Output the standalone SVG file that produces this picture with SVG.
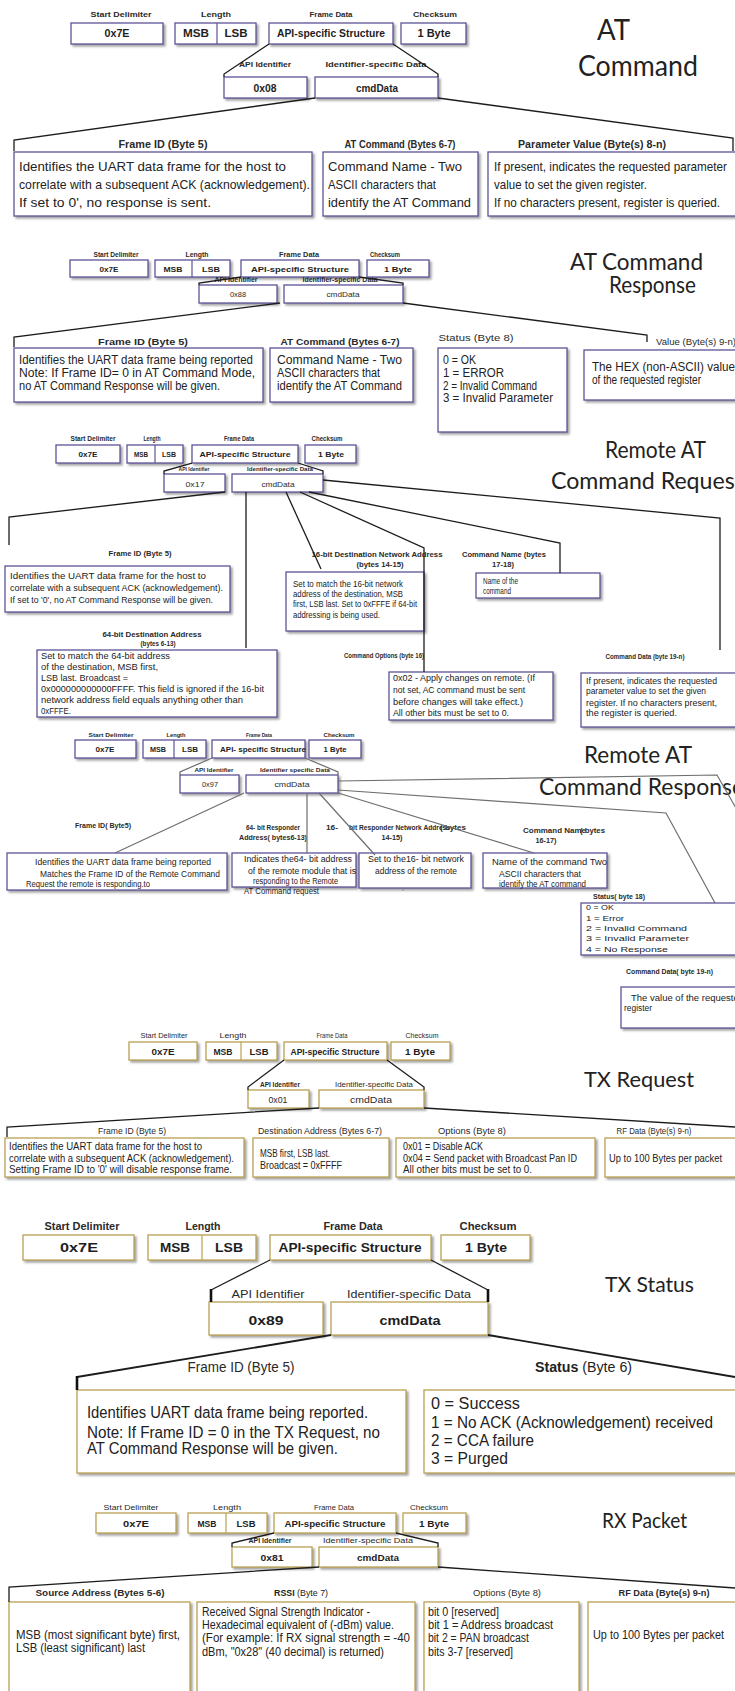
<svg xmlns="http://www.w3.org/2000/svg" width="735" height="1691" viewBox="0 0 735 1691">
<defs>
<filter id="sh" x="-5%" y="-10%" width="115%" height="140%">
<feDropShadow dx="2" dy="2" stdDeviation="1.2" flood-color="#707070" flood-opacity="0.65"/>
</filter>
<style>
.hl{font-family:"Liberation Sans",Arial,sans-serif;font-weight:bold;text-anchor:middle;fill:#2a2a2a}
.nl{font-family:"Liberation Sans",Arial,sans-serif;text-anchor:middle;fill:#2a2a2a}
.bl{font-family:"Liberation Sans",Arial,sans-serif;font-weight:bold;text-anchor:middle;fill:#1e1e1e}
.tx{font-family:"Liberation Sans",Arial,sans-serif;fill:#222}
.ti{font-family:Lato,"Open Sans",sans-serif;fill:#222}
.pb{fill:#fff;stroke:#5d5399;stroke-width:1.3;filter:url(#sh)}
.gb{fill:#fff;stroke:#bba150;stroke-width:1.3;filter:url(#sh)}
.pd{stroke:#5d5399;stroke-width:1.2}
.gd{stroke:#bba150;stroke-width:1.2}
.ln{fill:none;stroke:#1c1c1c;stroke-width:1.3}
.lg{fill:none;stroke:#6e6e6e;stroke-width:1.2}
.tk{fill:none;stroke:#111;stroke-width:2.6}
</style>
</defs>

<!-- ===================== AT Command ===================== -->
<g id="at-title">
<text class="ti" x="597" y="40" font-size="28" textLength="33" lengthAdjust="spacingAndGlyphs">AT</text>
<text class="ti" x="578" y="76" font-size="28" textLength="120" lengthAdjust="spacingAndGlyphs">Command</text>
</g>
<g id="at-start">
<text class="hl" x="121" y="17" font-size="8" textLength="61" lengthAdjust="spacingAndGlyphs">Start Delimiter</text>
<rect class="pb" x="71" y="23" width="92" height="21"/>
<text class="bl" x="117" y="37" font-size="10" textLength="25" lengthAdjust="spacingAndGlyphs">0x7E</text>
</g>
<g id="at-length">
<text class="hl" x="216" y="17" font-size="8" textLength="30" lengthAdjust="spacingAndGlyphs">Length</text>
<rect class="pb" x="175" y="23" width="81" height="21"/>
<line class="pd" x1="217" y1="23" x2="217" y2="44"/>
<text class="bl" x="196" y="37" font-size="10" textLength="26" lengthAdjust="spacingAndGlyphs">MSB</text>
<text class="bl" x="236" y="37" font-size="10" textLength="23" lengthAdjust="spacingAndGlyphs">LSB</text>
</g>
<g id="at-frame">
<text class="hl" x="331" y="17" font-size="8" textLength="43" lengthAdjust="spacingAndGlyphs">Frame Data</text>
<rect class="pb" x="269" y="23" width="124" height="21"/>
<text class="bl" x="331" y="37" font-size="10" textLength="108" lengthAdjust="spacingAndGlyphs">API-specific Structure</text>
</g>
<g id="at-checksum">
<text class="hl" x="435" y="17" font-size="8" textLength="44" lengthAdjust="spacingAndGlyphs">Checksum</text>
<rect class="pb" x="401" y="23" width="65" height="21"/>
<text class="bl" x="434" y="37" font-size="10" textLength="33" lengthAdjust="spacingAndGlyphs">1 Byte</text>
</g>
<g id="at-api">
<text class="hl" x="265" y="67" font-size="8" textLength="52" lengthAdjust="spacingAndGlyphs">API Identifier</text>
<rect class="pb" x="224" y="77" width="83" height="21"/>
<text class="bl" x="265" y="92" font-size="10" textLength="23" lengthAdjust="spacingAndGlyphs">0x08</text>
</g>
<g id="at-data">
<text class="hl" x="376" y="67" font-size="8" textLength="101" lengthAdjust="spacingAndGlyphs">Identifier-specific Data</text>
<rect class="pb" x="315" y="77" width="123" height="21"/>
<text class="bl" x="377" y="92" font-size="10" textLength="42" lengthAdjust="spacingAndGlyphs">cmdData</text>
</g>
<g id="at-frameid">
<text class="hl" x="163" y="148" font-size="10" textLength="89" lengthAdjust="spacingAndGlyphs">Frame ID (Byte 5)</text>
<rect class="pb" x="14" y="152" width="298" height="64"/>
<text class="tx" x="19" y="171" font-size="13" textLength="267" lengthAdjust="spacingAndGlyphs">Identifies the UART data frame for the host to</text>
<text class="tx" x="19" y="189" font-size="13" textLength="291" lengthAdjust="spacingAndGlyphs">correlate with a subsequent ACK (acknowledgement).</text>
<text class="tx" x="19" y="207" font-size="13" textLength="192" lengthAdjust="spacingAndGlyphs">If set to 0', no response is sent.</text>
</g>
<g id="at-command">
<text class="hl" x="400" y="148" font-size="10" textLength="111" lengthAdjust="spacingAndGlyphs">AT Command (Bytes 6-7)</text>
<rect class="pb" x="323" y="152" width="155" height="64"/>
<text class="tx" x="328" y="171" font-size="13" textLength="134" lengthAdjust="spacingAndGlyphs">Command Name - Two</text>
<text class="tx" x="328" y="189" font-size="13" textLength="108" lengthAdjust="spacingAndGlyphs">ASCII characters that</text>
<text class="tx" x="328" y="207" font-size="13" textLength="143" lengthAdjust="spacingAndGlyphs">identify the AT Command</text>
</g>
<g id="at-param">
<text class="hl" x="592" y="148" font-size="10" textLength="148" lengthAdjust="spacingAndGlyphs">Parameter Value  (Byte(s) 8-n)</text>
<rect class="pb" x="488" y="152" width="260" height="64"/>
<text class="tx" x="494" y="171" font-size="13" textLength="233" lengthAdjust="spacingAndGlyphs">If present, indicates the requested parameter</text>
<text class="tx" x="494" y="189" font-size="13" textLength="153" lengthAdjust="spacingAndGlyphs">value to set the given register.</text>
<text class="tx" x="494" y="207" font-size="13" textLength="226" lengthAdjust="spacingAndGlyphs">If no characters present, register is queried.</text>
</g>

<!-- ===================== AT Command Response ===================== -->
<g id="atr-title">
<text class="ti" x="570" y="270" font-size="24" textLength="133" lengthAdjust="spacingAndGlyphs">AT Command</text>
<text class="ti" x="609" y="293" font-size="24" textLength="87" lengthAdjust="spacingAndGlyphs">Response</text>
</g>
<g id="atr-start">
<text class="hl" x="116" y="257" font-size="7" textLength="45" lengthAdjust="spacingAndGlyphs">Start Delimiter</text>
<rect class="pb" x="70" y="260" width="78" height="17"/>
<text class="bl" x="109" y="272" font-size="8" textLength="19" lengthAdjust="spacingAndGlyphs">0x7E</text>
</g>
<g id="atr-length">
<text class="hl" x="197" y="257" font-size="7" textLength="23" lengthAdjust="spacingAndGlyphs">Length</text>
<rect class="pb" x="155" y="260" width="75" height="17"/>
<line class="pd" x1="192" y1="260" x2="192" y2="277"/>
<text class="bl" x="173" y="272" font-size="8" textLength="19" lengthAdjust="spacingAndGlyphs">MSB</text>
<text class="bl" x="211" y="272" font-size="8" textLength="18" lengthAdjust="spacingAndGlyphs">LSB</text>
</g>
<g id="atr-frame">
<text class="hl" x="299" y="257" font-size="7" textLength="40" lengthAdjust="spacingAndGlyphs">Frame Data</text>
<rect class="pb" x="241" y="260" width="118" height="17"/>
<text class="bl" x="300" y="272" font-size="8" textLength="98" lengthAdjust="spacingAndGlyphs">API-specific Structure</text>
</g>
<g id="atr-checksum">
<text class="hl" x="385" y="257" font-size="7" textLength="30" lengthAdjust="spacingAndGlyphs">Checksum</text>
<rect class="pb" x="367" y="260" width="62" height="17"/>
<text class="bl" x="398" y="272" font-size="8" textLength="28" lengthAdjust="spacingAndGlyphs">1 Byte</text>
</g>
<g id="atr-api">
<text class="hl" x="236" y="282" font-size="6.5" textLength="43" lengthAdjust="spacingAndGlyphs">API Identifier</text>
<rect class="pb" x="199" y="285" width="78" height="18"/>
<text class="nl" x="238" y="297" font-size="8" textLength="16" lengthAdjust="spacingAndGlyphs">0x88</text>
</g>
<g id="atr-data">
<text class="hl" x="340" y="282" font-size="6.5" textLength="75" lengthAdjust="spacingAndGlyphs">Identifier-specific Data</text>
<rect class="pb" x="284" y="285" width="119" height="18"/>
<text class="nl" x="343" y="297" font-size="8" textLength="33" lengthAdjust="spacingAndGlyphs">cmdData</text>
</g>
<g id="atr-frameid">
<text class="hl" x="143" y="345" font-size="9" textLength="90" lengthAdjust="spacingAndGlyphs">Frame ID  (Byte 5)</text>
<rect class="pb" x="14" y="348" width="249" height="54"/>
<text class="tx" x="19" y="364" font-size="12" textLength="234" lengthAdjust="spacingAndGlyphs">Identifies the UART data frame being reported</text>
<text class="tx" x="19" y="377" font-size="12" textLength="236" lengthAdjust="spacingAndGlyphs">Note: If Frame ID= 0 in AT Command Mode,</text>
<text class="tx" x="19" y="390" font-size="12" textLength="201" lengthAdjust="spacingAndGlyphs">no AT Command Response will be given.</text>
</g>
<g id="atr-command">
<text class="hl" x="340" y="345" font-size="9" textLength="119" lengthAdjust="spacingAndGlyphs">AT Command (Bytes 6-7)</text>
<rect class="pb" x="270" y="348" width="143" height="54"/>
<text class="tx" x="277" y="364" font-size="12" textLength="125" lengthAdjust="spacingAndGlyphs">Command Name - Two</text>
<text class="tx" x="277" y="377" font-size="12" textLength="103" lengthAdjust="spacingAndGlyphs">ASCII characters that</text>
<text class="tx" x="277" y="390" font-size="12" textLength="125" lengthAdjust="spacingAndGlyphs">identify the AT Command</text>
</g>
<g id="atr-status">
<text class="nl" x="476" y="341" font-size="9" textLength="75" lengthAdjust="spacingAndGlyphs">Status (Byte 8)</text>
<rect class="pb" x="438" y="348" width="129" height="84"/>
<text class="tx" x="443" y="364" font-size="12" textLength="33" lengthAdjust="spacingAndGlyphs">0 = OK</text>
<text class="tx" x="443" y="377" font-size="12" textLength="61" lengthAdjust="spacingAndGlyphs">1 = ERROR</text>
<text class="tx" x="443" y="390" font-size="12" textLength="94" lengthAdjust="spacingAndGlyphs">2 = Invalid Command</text>
<text class="tx" x="443" y="402" font-size="12" textLength="110" lengthAdjust="spacingAndGlyphs">3 = Invalid Parameter</text>
</g>
<g id="atr-value">
<text class="nl" x="696" y="345" font-size="9" textLength="80" lengthAdjust="spacingAndGlyphs">Value  (Byte(s) 9-n)</text>
<rect class="pb" x="584" y="350" width="160" height="50"/>
<text class="tx" x="592" y="371" font-size="12" textLength="143" lengthAdjust="spacingAndGlyphs">The HEX (non-ASCII) value</text>
<text class="tx" x="592" y="384" font-size="12" textLength="109" lengthAdjust="spacingAndGlyphs">of the requested register</text>
</g>

<!-- ===================== Remote AT Command Request ===================== -->
<g id="rq-title">
<text class="ti" x="605" y="458" font-size="24" textLength="101" lengthAdjust="spacingAndGlyphs">Remote AT</text>
<text class="ti" x="551" y="489" font-size="24" textLength="192" lengthAdjust="spacingAndGlyphs">Command Request</text>
</g>
<g id="rq-start">
<text class="hl" x="93" y="441" font-size="6.5" textLength="45" lengthAdjust="spacingAndGlyphs">Start Delimiter</text>
<rect class="pb" x="56" y="445" width="64" height="18"/>
<text class="bl" x="88" y="457" font-size="7.5" textLength="19" lengthAdjust="spacingAndGlyphs">0x7E</text>
</g>
<g id="rq-length">
<text class="hl" x="152" y="441" font-size="6.5" textLength="17" lengthAdjust="spacingAndGlyphs">Length</text>
<rect class="pb" x="127" y="445" width="56" height="18"/>
<line class="pd" x1="155" y1="445" x2="155" y2="463"/>
<text class="bl" x="141" y="457" font-size="7.5" textLength="14" lengthAdjust="spacingAndGlyphs">MSB</text>
<text class="bl" x="169" y="457" font-size="7.5" textLength="14" lengthAdjust="spacingAndGlyphs">LSB</text>
</g>
<g id="rq-frame">
<text class="hl" x="239" y="441" font-size="6.5" textLength="30" lengthAdjust="spacingAndGlyphs">Frame Data</text>
<rect class="pb" x="192" y="445" width="106" height="18"/>
<text class="bl" x="245" y="457" font-size="7.5" textLength="91" lengthAdjust="spacingAndGlyphs">API-specific Structure</text>
</g>
<g id="rq-checksum">
<text class="hl" x="327" y="441" font-size="6.5" textLength="31" lengthAdjust="spacingAndGlyphs">Checksum</text>
<rect class="pb" x="305" y="445" width="51" height="18"/>
<text class="bl" x="331" y="457" font-size="7.5" textLength="26" lengthAdjust="spacingAndGlyphs">1 Byte</text>
</g>
<g id="rq-api">
<text class="hl" x="194" y="471" font-size="6" textLength="31" lengthAdjust="spacingAndGlyphs">API Identifier</text>
<rect class="pb" x="164" y="474" width="61" height="18"/>
<text class="nl" x="195" y="487" font-size="7.5" textLength="19" lengthAdjust="spacingAndGlyphs">0x17</text>
</g>
<g id="rq-data">
<text class="hl" x="280" y="471" font-size="6" textLength="66" lengthAdjust="spacingAndGlyphs">Identifier-specific Data</text>
<rect class="pb" x="232" y="474" width="91" height="18"/>
<text class="nl" x="278" y="487" font-size="7.5" textLength="33" lengthAdjust="spacingAndGlyphs">cmdData</text>
</g>
<g id="rq-frameid">
<text class="hl" x="140" y="556" font-size="7" textLength="63" lengthAdjust="spacingAndGlyphs">Frame ID (Byte 5)</text>
<rect class="pb" x="5" y="566" width="225" height="46"/>
<text class="tx" x="10" y="579" font-size="9.5" textLength="196" lengthAdjust="spacingAndGlyphs">Identifies the UART data frame for the host to</text>
<text class="tx" x="10" y="591" font-size="9.5" textLength="213" lengthAdjust="spacingAndGlyphs">correlate with a subsequent ACK (acknowledgement).</text>
<text class="tx" x="10" y="603" font-size="9.5" textLength="203" lengthAdjust="spacingAndGlyphs">If set to '0', no AT Command Response will be given.</text>
</g>
<g id="rq-net16">
<text class="hl" x="377" y="557" font-size="7" textLength="131" lengthAdjust="spacingAndGlyphs">16-bit Destination Network Address</text>
<text class="hl" x="380" y="567" font-size="7" textLength="47" lengthAdjust="spacingAndGlyphs">(bytes 14-15)</text>
<rect class="pb" x="286" y="572" width="138" height="59"/>
<text class="tx" x="293" y="587" font-size="9.5" textLength="110" lengthAdjust="spacingAndGlyphs">Set to match the 16-bit network</text>
<text class="tx" x="293" y="597" font-size="9.5" textLength="110" lengthAdjust="spacingAndGlyphs">address of the destination, MSB</text>
<text class="tx" x="293" y="607" font-size="9.5" textLength="124" lengthAdjust="spacingAndGlyphs">first, LSB last. Set to 0xFFFE if 64-bit</text>
<text class="tx" x="293" y="618" font-size="9.5" textLength="87" lengthAdjust="spacingAndGlyphs">addressing is being used.</text>
</g>
<g id="rq-name">
<text class="hl" x="504" y="557" font-size="7" textLength="84" lengthAdjust="spacingAndGlyphs">Command Name (bytes</text>
<text class="hl" x="503" y="567" font-size="7" textLength="22" lengthAdjust="spacingAndGlyphs">17-18)</text>
<rect class="pb" x="476" y="573" width="124" height="25"/>
<text class="tx" x="483" y="584" font-size="9.5" textLength="35" lengthAdjust="spacingAndGlyphs">Name of the</text>
<text class="tx" x="483" y="594" font-size="9.5" textLength="28" lengthAdjust="spacingAndGlyphs">command</text>
</g>
<g id="rq-addr64">
<text class="hl" x="152" y="637" font-size="7" textLength="99" lengthAdjust="spacingAndGlyphs">64-bit Destination Address</text>
<text class="hl" x="158" y="646" font-size="7" textLength="35" lengthAdjust="spacingAndGlyphs">(bytes 6-13)</text>
<rect class="pb" x="37" y="650" width="240" height="67"/>
<text class="tx" x="41" y="659" font-size="9.5" textLength="129" lengthAdjust="spacingAndGlyphs">Set to match the 64-bit address</text>
<text class="tx" x="41" y="670" font-size="9.5" textLength="117" lengthAdjust="spacingAndGlyphs">of the destination, MSB first,</text>
<text class="tx" x="41" y="681" font-size="9.5" textLength="87" lengthAdjust="spacingAndGlyphs">LSB last. Broadcast =</text>
<text class="tx" x="41" y="692" font-size="9.5" textLength="223" lengthAdjust="spacingAndGlyphs">0x000000000000FFFF. This field is ignored if the 16-bit</text>
<text class="tx" x="41" y="703" font-size="9.5" textLength="202" lengthAdjust="spacingAndGlyphs">network address field equals anything other than</text>
<text class="tx" x="41" y="714" font-size="9.5" textLength="30" lengthAdjust="spacingAndGlyphs">0xFFFE.</text>
</g>
<g id="rq-options">
<text class="hl" x="384" y="658" font-size="7" textLength="80" lengthAdjust="spacingAndGlyphs">Command Options (byte 16)</text>
<rect class="pb" x="389" y="672" width="164" height="48"/>
<text class="tx" x="393" y="681" font-size="9.5" textLength="142" lengthAdjust="spacingAndGlyphs">0x02 - Apply changes on remote. (If</text>
<text class="tx" x="393" y="693" font-size="9.5" textLength="132" lengthAdjust="spacingAndGlyphs">not set, AC command must be sent</text>
<text class="tx" x="393" y="705" font-size="9.5" textLength="130" lengthAdjust="spacingAndGlyphs">before changes will take effect.)</text>
<text class="tx" x="393" y="716" font-size="9.5" textLength="116" lengthAdjust="spacingAndGlyphs">All other bits must be set to 0.</text>
</g>
<g id="rq-cmddata">
<text class="hl" x="645" y="659" font-size="7" textLength="79" lengthAdjust="spacingAndGlyphs">Command Data (byte 19-n)</text>
<rect class="pb" x="581" y="673" width="170" height="54"/>
<text class="tx" x="586" y="684" font-size="9.5" textLength="131" lengthAdjust="spacingAndGlyphs">If present, indicates the requested</text>
<text class="tx" x="586" y="694" font-size="9.5" textLength="120" lengthAdjust="spacingAndGlyphs">parameter value to set the given</text>
<text class="tx" x="586" y="706" font-size="9.5" textLength="131" lengthAdjust="spacingAndGlyphs">register. If no characters present,</text>
<text class="tx" x="586" y="716" font-size="9.5" textLength="91" lengthAdjust="spacingAndGlyphs">the register is queried.</text>
</g>

<!-- ===================== Remote AT Command Response ===================== -->
<g id="rs-title">
<text class="ti" x="584" y="763" font-size="24" textLength="108" lengthAdjust="spacingAndGlyphs">Remote AT</text>
<text class="ti" x="539" y="795" font-size="24" textLength="205" lengthAdjust="spacingAndGlyphs">Command Response</text>
</g>
<g id="rs-start">
<text class="hl" x="111" y="737" font-size="6" textLength="45" lengthAdjust="spacingAndGlyphs">Start Delimiter</text>
<rect class="pb" x="75" y="740" width="61" height="18"/>
<text class="bl" x="105" y="752" font-size="7.5" textLength="19" lengthAdjust="spacingAndGlyphs">0x7E</text>
</g>
<g id="rs-length">
<text class="hl" x="176" y="737" font-size="6" textLength="19" lengthAdjust="spacingAndGlyphs">Length</text>
<rect class="pb" x="143" y="740" width="63" height="18"/>
<line class="pd" x1="174" y1="740" x2="174" y2="758"/>
<text class="bl" x="158" y="752" font-size="7.5" textLength="16" lengthAdjust="spacingAndGlyphs">MSB</text>
<text class="bl" x="190" y="752" font-size="7.5" textLength="16" lengthAdjust="spacingAndGlyphs">LSB</text>
</g>
<g id="rs-frame">
<text class="hl" x="259" y="737" font-size="6" textLength="26" lengthAdjust="spacingAndGlyphs">Frame Data</text>
<rect class="pb" x="212" y="740" width="93" height="18"/>
<text class="bl" x="220" y="752" font-size="7.5" textLength="86" lengthAdjust="spacingAndGlyphs" style="text-anchor:start">API- specific Structure</text>
</g>
<g id="rs-checksum">
<text class="hl" x="339" y="737" font-size="6" textLength="31" lengthAdjust="spacingAndGlyphs">Checksum</text>
<rect class="pb" x="309" y="740" width="52" height="18"/>
<text class="bl" x="335" y="752" font-size="7.5" textLength="23" lengthAdjust="spacingAndGlyphs">1 Byte</text>
</g>
<g id="rs-api">
<text class="hl" x="214" y="772" font-size="6" textLength="39" lengthAdjust="spacingAndGlyphs">API Identifier</text>
<rect class="pb" x="180" y="775" width="59" height="18"/>
<text class="nl" x="210" y="787" font-size="7.5" textLength="16" lengthAdjust="spacingAndGlyphs">0x97</text>
</g>
<g id="rs-data">
<text class="hl" x="295" y="772" font-size="6" textLength="70" lengthAdjust="spacingAndGlyphs">Identifier specific Data</text>
<rect class="pb" x="246" y="775" width="92" height="18"/>
<text class="nl" x="292" y="787" font-size="7.5" textLength="35" lengthAdjust="spacingAndGlyphs">cmdData</text>
</g>
<g id="rs-frameid">
<text class="hl" x="103" y="828" font-size="6.5" textLength="56" lengthAdjust="spacingAndGlyphs">Frame ID( Byte5)</text>
<rect class="pb" x="7" y="853" width="220" height="37"/>
<text class="tx" x="35" y="865" font-size="8.5" textLength="176" lengthAdjust="spacingAndGlyphs">Identifies the UART data frame being reported</text>
<text class="tx" x="40" y="877" font-size="8.5" textLength="180" lengthAdjust="spacingAndGlyphs">Matches the Frame ID of the Remote Command</text>
<text class="tx" x="26" y="887" font-size="8.5" textLength="124" lengthAdjust="spacingAndGlyphs">Request the remote is responding.to</text>
</g>
<g id="rs-addr64">
<text class="hl" x="273" y="830" font-size="6.5" textLength="54" lengthAdjust="spacingAndGlyphs">64- bit Responder</text>
<text class="hl" x="273" y="840" font-size="6.5" textLength="68" lengthAdjust="spacingAndGlyphs">Address( bytes6-13)</text>
<rect class="pb" x="232" y="853" width="124" height="34"/>
<text class="tx" x="244" y="862" font-size="8.5" textLength="108" lengthAdjust="spacingAndGlyphs">Indicates the64- bit address</text>
<text class="tx" x="248" y="874" font-size="8.5" textLength="108" lengthAdjust="spacingAndGlyphs">of the remote module that is</text>
<text class="tx" x="253" y="884" font-size="8.5" textLength="85" lengthAdjust="spacingAndGlyphs">responding to the Remote</text>
<text class="tx" x="244" y="894" font-size="8.5" textLength="75" lengthAdjust="spacingAndGlyphs">AT Command request</text>
</g>
<g id="rs-net16">
<text class="hl" x="326" y="830" font-size="6.5" textLength="12" lengthAdjust="spacingAndGlyphs" style="text-anchor:start">16-</text>
<text class="hl" x="349" y="830" font-size="6.5" textLength="101" lengthAdjust="spacingAndGlyphs" style="text-anchor:start">bit Responder Network Address</text>
<text class="hl" x="440" y="830" font-size="6.5" textLength="26" lengthAdjust="spacingAndGlyphs" style="text-anchor:start">( bytes</text>
<text class="hl" x="392" y="840" font-size="6.5" textLength="21" lengthAdjust="spacingAndGlyphs">14-15)</text>
<rect class="pb" x="359" y="853" width="112" height="35"/>
<text class="tx" x="368" y="862" font-size="8.5" textLength="96" lengthAdjust="spacingAndGlyphs">Set to the16- bit network</text>
<text class="tx" x="375" y="874" font-size="8.5" textLength="82" lengthAdjust="spacingAndGlyphs">address of the remote</text>
<circle cx="403" cy="890" r="0.6" fill="#555"/>
</g>
<g id="rs-name">
<text class="hl" x="523" y="833" font-size="6.5" textLength="63" lengthAdjust="spacingAndGlyphs" style="text-anchor:start">Command Name</text>
<text class="hl" x="580" y="833" font-size="6.5" textLength="25" lengthAdjust="spacingAndGlyphs" style="text-anchor:start">( bytes</text>
<text class="hl" x="546" y="843" font-size="6.5" textLength="21" lengthAdjust="spacingAndGlyphs">16-17)</text>
<rect class="pb" x="483" y="853" width="124" height="35"/>
<text class="tx" x="492" y="865" font-size="8.5" textLength="115" lengthAdjust="spacingAndGlyphs">Name of the command  Two</text>
<text class="tx" x="499" y="877" font-size="8.5" textLength="82" lengthAdjust="spacingAndGlyphs">ASCII characters that</text>
<text class="tx" x="499" y="887" font-size="8.5" textLength="87" lengthAdjust="spacingAndGlyphs">identify the AT command</text>
</g>
<g id="rs-status">
<text class="hl" x="593" y="899" font-size="6.5" textLength="52" lengthAdjust="spacingAndGlyphs" style="text-anchor:start">Status( byte 18)</text>
<rect class="pb" x="581" y="903" width="160" height="52"/>
<text class="tx" x="586" y="910" font-size="8" textLength="28" lengthAdjust="spacingAndGlyphs">0 = OK</text>
<text class="tx" x="586" y="921" font-size="8" textLength="38" lengthAdjust="spacingAndGlyphs">1 = Error</text>
<text class="tx" x="586" y="931" font-size="8" textLength="101" lengthAdjust="spacingAndGlyphs">2 =  Invalid Command</text>
<text class="tx" x="586" y="941" font-size="8" textLength="103" lengthAdjust="spacingAndGlyphs">3 =  Invalid Parameter</text>
<text class="tx" x="586" y="952" font-size="8" textLength="82" lengthAdjust="spacingAndGlyphs">4 =  No Response</text>
</g>
<g id="rs-cmddata">
<text class="hl" x="626" y="974" font-size="6.5" textLength="87" lengthAdjust="spacingAndGlyphs" style="text-anchor:start">Command Data( byte 19-n)</text>
<rect class="pb" x="621" y="987" width="130" height="41"/>
<text class="tx" x="631" y="1001" font-size="8.5" textLength="113" lengthAdjust="spacingAndGlyphs">The value of the requested</text>
<text class="tx" x="624" y="1011" font-size="8.5" textLength="28" lengthAdjust="spacingAndGlyphs">register</text>
</g>

<!-- ===================== TX Request ===================== -->
<g id="txq-title">
<text class="ti" x="584" y="1087" font-size="22" textLength="110" lengthAdjust="spacingAndGlyphs">TX Request</text>
</g>
<g id="txq-start">
<text class="nl" x="164" y="1038" font-size="7.5" textLength="47" lengthAdjust="spacingAndGlyphs">Start Delimiter</text>
<rect class="gb" x="129" y="1042" width="68" height="18"/>
<text class="bl" x="163" y="1055" font-size="8.5" textLength="23" lengthAdjust="spacingAndGlyphs">0x7E</text>
</g>
<g id="txq-length">
<text class="nl" x="233" y="1038" font-size="7.5" textLength="27" lengthAdjust="spacingAndGlyphs">Length</text>
<rect class="gb" x="206" y="1042" width="71" height="18"/>
<line class="gd" x1="241" y1="1042" x2="241" y2="1060"/>
<text class="bl" x="223" y="1055" font-size="8.5" textLength="19" lengthAdjust="spacingAndGlyphs">MSB</text>
<text class="bl" x="259" y="1055" font-size="8.5" textLength="19" lengthAdjust="spacingAndGlyphs">LSB</text>
</g>
<g id="txq-frame">
<text class="nl" x="332" y="1038" font-size="7.5" textLength="31" lengthAdjust="spacingAndGlyphs">Frame Data</text>
<rect class="gb" x="284" y="1042" width="103" height="18"/>
<text class="bl" x="335" y="1055" font-size="8.5" textLength="89" lengthAdjust="spacingAndGlyphs">API-specific Structure</text>
</g>
<g id="txq-checksum">
<text class="nl" x="422" y="1038" font-size="7.5" textLength="33" lengthAdjust="spacingAndGlyphs">Checksum</text>
<rect class="gb" x="391" y="1042" width="59" height="18"/>
<text class="bl" x="420" y="1055" font-size="8.5" textLength="30" lengthAdjust="spacingAndGlyphs">1 Byte</text>
</g>
<g id="txq-api">
<text class="hl" x="280" y="1087" font-size="7" textLength="40" lengthAdjust="spacingAndGlyphs">API Identifier</text>
<rect class="gb" x="248" y="1090" width="61" height="18"/>
<text class="nl" x="278" y="1103" font-size="8.5" textLength="19" lengthAdjust="spacingAndGlyphs">0x01</text>
</g>
<g id="txq-data">
<text class="nl" x="374" y="1087" font-size="7" textLength="78" lengthAdjust="spacingAndGlyphs">Identifier-specific Data</text>
<rect class="gb" x="319" y="1090" width="105" height="18"/>
<text class="nl" x="371" y="1103" font-size="8.5" textLength="42" lengthAdjust="spacingAndGlyphs">cmdData</text>
</g>
<g id="txq-frameid">
<text class="nl" x="132" y="1134" font-size="8.5" textLength="68" lengthAdjust="spacingAndGlyphs">Frame ID (Byte 5)</text>
<rect class="gb" x="5" y="1138" width="239" height="39"/>
<text class="tx" x="9" y="1150" font-size="10.5" textLength="193" lengthAdjust="spacingAndGlyphs">Identifies the UART data frame for the host to</text>
<text class="tx" x="9" y="1162" font-size="10.5" textLength="225" lengthAdjust="spacingAndGlyphs">correlate with a subsequent ACK (acknowledgement).</text>
<text class="tx" x="9" y="1173" font-size="10.5" textLength="223" lengthAdjust="spacingAndGlyphs">Setting Frame ID to '0' will disable response frame.</text>
</g>
<g id="txq-dest">
<text class="nl" x="320" y="1134" font-size="8.5" textLength="124" lengthAdjust="spacingAndGlyphs">Destination Address (Bytes 6-7)</text>
<rect class="gb" x="253" y="1138" width="136" height="39"/>
<text class="tx" x="260" y="1157" font-size="10.5" textLength="70" lengthAdjust="spacingAndGlyphs">MSB first, LSB last.</text>
<text class="tx" x="260" y="1169" font-size="10.5" textLength="82" lengthAdjust="spacingAndGlyphs">Broadcast = 0xFFFF</text>
</g>
<g id="txq-options">
<text class="nl" x="472" y="1134" font-size="8.5" textLength="68" lengthAdjust="spacingAndGlyphs">Options (Byte 8)</text>
<rect class="gb" x="396" y="1138" width="199" height="39"/>
<text class="tx" x="403" y="1150" font-size="10.5" textLength="80" lengthAdjust="spacingAndGlyphs">0x01 = Disable ACK</text>
<text class="tx" x="403" y="1162" font-size="10.5" textLength="174" lengthAdjust="spacingAndGlyphs">0x04 = Send packet with Broadcast Pan ID</text>
<text class="tx" x="403" y="1173" font-size="10.5" textLength="129" lengthAdjust="spacingAndGlyphs">All other bits must be set to 0.</text>
</g>
<g id="txq-rfdata">
<text class="nl" x="654" y="1134" font-size="8.5" textLength="75" lengthAdjust="spacingAndGlyphs">RF Data (Byte(s) 9-n)</text>
<rect class="gb" x="605" y="1138" width="140" height="39"/>
<text class="tx" x="609" y="1162" font-size="10.5" textLength="113" lengthAdjust="spacingAndGlyphs">Up to 100 Bytes per packet</text>
</g>

<!-- ===================== TX Status ===================== -->
<g id="txs-title">
<text class="ti" x="605" y="1292" font-size="22" textLength="89" lengthAdjust="spacingAndGlyphs">TX Status</text>
</g>
<g id="txs-start">
<text class="hl" x="82" y="1230" font-size="10.5" textLength="75" lengthAdjust="spacingAndGlyphs">Start Delimiter</text>
<rect class="gb" x="23" y="1235" width="111" height="25"/>
<text class="bl" x="79" y="1252" font-size="12.5" textLength="38" lengthAdjust="spacingAndGlyphs">0x7E</text>
</g>
<g id="txs-length">
<text class="hl" x="203" y="1230" font-size="10.5" textLength="35" lengthAdjust="spacingAndGlyphs">Length</text>
<rect class="gb" x="148" y="1235" width="108" height="25"/>
<line class="gd" x1="202" y1="1235" x2="202" y2="1260"/>
<text class="bl" x="175" y="1252" font-size="12.5" textLength="30" lengthAdjust="spacingAndGlyphs">MSB</text>
<text class="bl" x="229" y="1252" font-size="12.5" textLength="28" lengthAdjust="spacingAndGlyphs">LSB</text>
</g>
<g id="txs-frame">
<text class="hl" x="353" y="1230" font-size="10.5" textLength="59" lengthAdjust="spacingAndGlyphs">Frame Data</text>
<rect class="gb" x="270" y="1235" width="161" height="25"/>
<text class="bl" x="350" y="1252" font-size="12.5" textLength="143" lengthAdjust="spacingAndGlyphs">API-specific Structure</text>
</g>
<g id="txs-checksum">
<text class="hl" x="488" y="1230" font-size="10.5" textLength="57" lengthAdjust="spacingAndGlyphs">Checksum</text>
<rect class="gb" x="441" y="1235" width="89" height="25"/>
<text class="bl" x="486" y="1252" font-size="12.5" textLength="42" lengthAdjust="spacingAndGlyphs">1 Byte</text>
</g>
<g id="txs-api">
<text class="nl" x="268" y="1298" font-size="10.5" textLength="73" lengthAdjust="spacingAndGlyphs">API Identifier</text>
<rect class="gb" x="209" y="1302" width="114" height="33"/>
<text class="bl" x="266" y="1325" font-size="12.5" textLength="35" lengthAdjust="spacingAndGlyphs">0x89</text>
</g>
<g id="txs-data">
<text class="nl" x="409" y="1298" font-size="10.5" textLength="124" lengthAdjust="spacingAndGlyphs">Identifier-specific Data</text>
<rect class="gb" x="331" y="1302" width="157" height="33"/>
<text class="bl" x="410" y="1325" font-size="12.5" textLength="61" lengthAdjust="spacingAndGlyphs">cmdData</text>
</g>
<g id="txs-frameid">
<text class="nl" x="241" y="1372" font-size="14" textLength="107" lengthAdjust="spacingAndGlyphs">Frame ID (Byte 5)</text>
<rect class="gb" x="77" y="1390" width="329" height="83"/>
<text class="tx" x="87" y="1418" font-size="16" textLength="281" lengthAdjust="spacingAndGlyphs">Identifies UART data frame being reported.</text>
<text class="tx" x="87" y="1438" font-size="16" textLength="293" lengthAdjust="spacingAndGlyphs">Note: If Frame ID = 0 in the TX Request, no</text>
<text class="tx" x="87" y="1454" font-size="16" textLength="251" lengthAdjust="spacingAndGlyphs">AT Command Response will be given.</text>
</g>
<g id="txs-status">
<text class="tx" x="535" y="1372" font-size="14" textLength="97" lengthAdjust="spacingAndGlyphs"><tspan font-weight="bold">Status</tspan> (Byte 6)</text>
<rect class="gb" x="424" y="1390" width="320" height="83"/>
<text class="tx" x="431" y="1409" font-size="16" textLength="89" lengthAdjust="spacingAndGlyphs">0 = Success</text>
<text class="tx" x="431" y="1428" font-size="16" textLength="282" lengthAdjust="spacingAndGlyphs">1 = No ACK (Acknowledgement) received</text>
<text class="tx" x="431" y="1446" font-size="16" textLength="103" lengthAdjust="spacingAndGlyphs">2 = CCA failure</text>
<text class="tx" x="431" y="1464" font-size="16" textLength="77" lengthAdjust="spacingAndGlyphs">3 = Purged</text>
</g>

<!-- ===================== RX Packet ===================== -->
<g id="rx-title">
<text class="ti" x="602" y="1528" font-size="22" textLength="85" lengthAdjust="spacingAndGlyphs">RX Packet</text>
</g>
<g id="rx-start">
<text class="nl" x="131" y="1510" font-size="7.5" textLength="55" lengthAdjust="spacingAndGlyphs">Start Delimiter</text>
<rect class="gb" x="96" y="1513" width="80" height="20"/>
<text class="bl" x="136" y="1527" font-size="9" textLength="26" lengthAdjust="spacingAndGlyphs">0x7E</text>
</g>
<g id="rx-length">
<text class="nl" x="227" y="1510" font-size="7.5" textLength="28" lengthAdjust="spacingAndGlyphs">Length</text>
<rect class="gb" x="188" y="1513" width="79" height="20"/>
<line class="gd" x1="226" y1="1513" x2="226" y2="1533"/>
<text class="bl" x="207" y="1527" font-size="9" textLength="19" lengthAdjust="spacingAndGlyphs">MSB</text>
<text class="bl" x="246" y="1527" font-size="9" textLength="19" lengthAdjust="spacingAndGlyphs">LSB</text>
</g>
<g id="rx-frame">
<text class="nl" x="334" y="1510" font-size="7.5" textLength="40" lengthAdjust="spacingAndGlyphs">Frame Data</text>
<rect class="gb" x="274" y="1513" width="122" height="20"/>
<text class="bl" x="335" y="1527" font-size="9" textLength="101" lengthAdjust="spacingAndGlyphs">API-specific Structure</text>
</g>
<g id="rx-checksum">
<text class="nl" x="429" y="1510" font-size="7.5" textLength="38" lengthAdjust="spacingAndGlyphs">Checksum</text>
<rect class="gb" x="403" y="1513" width="63" height="20"/>
<text class="bl" x="434" y="1527" font-size="9" textLength="30" lengthAdjust="spacingAndGlyphs">1 Byte</text>
</g>
<g id="rx-api">
<text class="hl" x="270" y="1543" font-size="7.5" textLength="43" lengthAdjust="spacingAndGlyphs">API Identifier</text>
<rect class="gb" x="232" y="1547" width="80" height="20"/>
<text class="bl" x="272" y="1561" font-size="9" textLength="23" lengthAdjust="spacingAndGlyphs">0x81</text>
</g>
<g id="rx-data">
<text class="nl" x="368" y="1543" font-size="7.5" textLength="90" lengthAdjust="spacingAndGlyphs">Identifier-specific Data</text>
<rect class="gb" x="319" y="1547" width="119" height="20"/>
<text class="bl" x="378" y="1561" font-size="9" textLength="42" lengthAdjust="spacingAndGlyphs">cmdData</text>
</g>
<g id="rx-source">
<text class="hl" x="100" y="1596" font-size="9" textLength="129" lengthAdjust="spacingAndGlyphs">Source Address (Bytes 5-6)</text>
<rect class="gb" x="9" y="1602" width="181" height="100"/>
<text class="tx" x="16" y="1639" font-size="12" textLength="164" lengthAdjust="spacingAndGlyphs">MSB (most significant byte) first,</text>
<text class="tx" x="16" y="1652" font-size="12" textLength="129" lengthAdjust="spacingAndGlyphs">LSB (least significant) last</text>
</g>
<g id="rx-rssi">
<text class="tx" x="274" y="1596" font-size="9" textLength="54" lengthAdjust="spacingAndGlyphs"><tspan font-weight="bold">RSSI</tspan> (Byte 7)</text>
<rect class="gb" x="197" y="1602" width="218" height="100"/>
<text class="tx" x="202" y="1616" font-size="12" textLength="168" lengthAdjust="spacingAndGlyphs">Received Signal Strength Indicator -</text>
<text class="tx" x="202" y="1629" font-size="12" textLength="192" lengthAdjust="spacingAndGlyphs">Hexadecimal equivalent of (-dBm) value.</text>
<text class="tx" x="202" y="1642" font-size="12" textLength="208" lengthAdjust="spacingAndGlyphs">(For example: If RX signal strength = -40</text>
<text class="tx" x="202" y="1656" font-size="12" textLength="182" lengthAdjust="spacingAndGlyphs">dBm, "0x28" (40 decimal) is returned)</text>
</g>
<g id="rx-options">
<text class="nl" x="507" y="1596" font-size="9" textLength="68" lengthAdjust="spacingAndGlyphs">Options (Byte 8)</text>
<rect class="gb" x="424" y="1602" width="155" height="100"/>
<text class="tx" x="428" y="1616" font-size="12" textLength="71" lengthAdjust="spacingAndGlyphs">bit 0 [reserved]</text>
<text class="tx" x="428" y="1629" font-size="12" textLength="125" lengthAdjust="spacingAndGlyphs">bit 1 = Address broadcast</text>
<text class="tx" x="428" y="1642" font-size="12" textLength="101" lengthAdjust="spacingAndGlyphs">bit 2 = PAN broadcast</text>
<text class="tx" x="428" y="1656" font-size="12" textLength="85" lengthAdjust="spacingAndGlyphs">bits 3-7 [reserved]</text>
</g>
<g id="rx-rfdata">
<text class="hl" x="664" y="1596" font-size="9" textLength="91" lengthAdjust="spacingAndGlyphs">RF Data (Byte(s) 9-n)</text>
<rect class="gb" x="588" y="1602" width="160" height="100"/>
<text class="tx" x="593" y="1639" font-size="12" textLength="131" lengthAdjust="spacingAndGlyphs">Up to 100 Bytes per packet</text>
</g>

<!-- ===================== connectors ===================== -->
<g id="connectors">
<!-- AT Command -->
<polyline class="ln" points="269,44 224,74 224,77"/>
<polyline class="ln" points="393,44 438,74 438,77"/>
<polyline class="ln" points="315,98 14,140 14,151"/>
<polyline class="ln" points="438,98 733,138 733,151"/>
<!-- AT Command Response -->
<polyline class="ln" points="241,277 199,283 199,285"/>
<polyline class="ln" points="359,277 403,283 403,285"/>
<polyline class="ln" points="280,303 14,337 14,347"/>
<polyline class="ln" points="403,303 647,335 647,342"/>
<!-- Remote AT Command Request -->
<polyline class="ln" points="192,463 164,471 164,474"/>
<polyline class="ln" points="298,463 323,471 323,474"/>
<polyline class="ln" points="225,492 9,517 9,545"/>
<polyline class="ln" points="246,492 246,648"/>
<polyline class="ln" points="286,492 321,569"/>
<polyline class="ln" points="300,492 424,548 424,672"/>
<polyline class="ln" points="309,492 560,543 560,573"/>
<polyline class="ln" points="323,480 720,518 720,650"/>
<!-- Remote AT Command Response -->
<polyline class="lg" points="212,758 180,772 180,775"/>
<polyline class="lg" points="305,758 338,772 338,775"/>
<polyline class="lg" points="338,781 717,775 760,850"/>
<polyline class="lg" points="338,790 666,813 715,903"/>
<polyline class="lg" points="244,793 115,853"/>
<polyline class="lg" points="307,793 307,853"/>
<polyline class="lg" points="319,793 375,855"/>
<polyline class="lg" points="338,793 534,853"/>
<!-- TX Request -->
<polyline class="ln" points="284,1060 248,1087 248,1090"/>
<polyline class="ln" points="387,1060 424,1087 424,1090"/>
<polyline class="ln" points="319,1108 7,1127 7,1137"/>
<polyline class="ln" points="424,1108 735,1127"/>
<!-- TX Status -->
<polyline class="ln" points="270,1260 211,1290"/>
<polyline class="ln" points="431,1260 488,1290"/>
<line class="tk" x1="211" y1="1289" x2="211" y2="1302"/>
<line class="tk" x1="488" y1="1289" x2="488" y2="1302"/>
<polyline class="ln" points="331,1335 77,1377" style="stroke-width:1.8"/>
<polyline class="ln" points="488,1335 735,1377" style="stroke-width:1.8"/>
<line class="tk" x1="77" y1="1376" x2="77" y2="1390"/>
<!-- RX Packet -->
<polyline class="ln" points="274,1533 232,1543 232,1547"/>
<polyline class="ln" points="396,1533 438,1543 438,1547"/>
<polyline class="ln" points="319,1567 9,1587 9,1602"/>
<polyline class="ln" points="438,1567 735,1588"/>
</g>
</svg>
